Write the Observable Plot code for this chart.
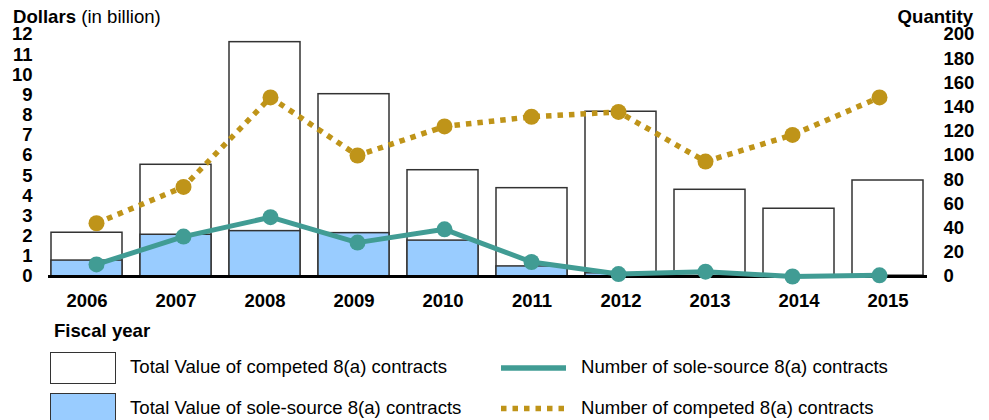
<!DOCTYPE html>
<html><head><meta charset="utf-8">
<script src="https://cdn.jsdelivr.net/npm/d3@7"></script>
<script src="https://cdn.jsdelivr.net/npm/@observablehq/plot@0.6"></script>
<style>
body{margin:0;background:#fff;font-family:"Liberation Sans",Arial,sans-serif;}
#wrap{position:relative;width:989px;height:420px;overflow:hidden;background:#fff;}
#wrap > svg{position:absolute;left:0;top:0;}
.lbl{position:absolute;font-size:18.6px;color:#000;white-space:nowrap;line-height:1;}
.box{position:absolute;box-sizing:border-box;border:1.5px solid #333;}
</style></head><body><div id="wrap"></div>
<script>
const years = ["2006","2007","2008","2009","2010","2011","2012","2013","2014","2015"];
const competedValue = [2.17,5.54,11.62,9.04,5.27,4.38,8.17,4.30,3.36,4.76];
const soleSourceValue = [0.79,2.07,2.25,2.15,1.78,0.50,0.16,0.03,0.02,0.04];
const soleSourceCount = [10,33,49,28,39,12,2,4,0,1];
const competedCount = [44,74,148,100,124,132,136,95,117,148];
const dollarTicks = d3.range(0,13,1);
const quantityTicks = d3.range(0,201,20);

const TEAL = "#419c94", GOLD = "#bf9419", BLUE = "#99ccff";
const data = years.map((y,i)=>({year:y, competed:competedValue[i], sole:soleSourceValue[i], soleN:soleSourceCount[i], compN:competedCount[i]}));

const common = {width:989,height:420,marginTop:34,marginBottom:144,marginLeft:48,marginRight:62,
  style:{fontFamily:"'Liberation Sans', Arial, sans-serif", background:"transparent", overflow:"visible", color:"#000"}};
const xOpt = {domain:years, paddingInner:0.2, paddingOuter:0};

const p1 = Plot.plot({...common,
  x:{...xOpt},
  y:{domain:[0,12]},
  marks:[
    Plot.barY(data,{x:"year",y:"competed",fill:"white",stroke:"#333",strokeWidth:1.5}),
    Plot.barY(data,{x:"year",y:"sole",fill:BLUE,stroke:"#333",strokeWidth:1.5}),
    Plot.ruleY([0],{stroke:"#000",strokeWidth:3}),
    Plot.axisY(dollarTicks,{tickSize:0,tickPadding:16,fontSize:18.5,fontWeight:"bold",label:null}),
    Plot.axisX({tickSize:0,tickPadding:17,fontSize:18.5,fontWeight:"bold",label:null})
  ]});

const p2 = Plot.plot({...common,
  x:{...xOpt, axis:null},
  y:{domain:[0,200]},
  marks:[
    Plot.line(data,{x:"year",y:"compN",stroke:GOLD,strokeWidth:5.5,strokeDasharray:"5.5,6",strokeLinecap:"butt"}),
    Plot.dot(data,{x:"year",y:"compN",r:8,fill:GOLD}),
    Plot.line(data,{x:"year",y:"soleN",stroke:TEAL,strokeWidth:5}),
    Plot.dot(data,{x:"year",y:"soleN",r:8,fill:TEAL}),
    Plot.axisY(quantityTicks,{anchor:"right",tickSize:0,tickPadding:16,fontSize:18.5,fontWeight:"bold",label:null})
  ]});

const wrap = document.getElementById("wrap");
wrap.appendChild(p1);
wrap.appendChild(p2);

function lbl(html,css){const d=document.createElement("div");d.className="lbl";d.innerHTML=html;Object.assign(d.style,css);wrap.appendChild(d);return d;}
lbl("<b>Dollars</b> (in billion)",{left:"13px",top:"7.5px"});
lbl("<b>Quantity</b>",{right:"16px",top:"7.5px"});
lbl("<b>Fiscal year</b>",{left:"54px",top:"322px"});
lbl("Total Value of competed 8(a) contracts",{left:"130px",top:"357.5px"});
lbl("Total Value of sole-source 8(a) contracts",{left:"130px",top:"399px"});
lbl("Number of sole-source 8(a) contracts",{left:"581px",top:"357.5px"});
lbl("Number of competed 8(a) contracts",{left:"581px",top:"399px"});

const b1=document.createElement("div");b1.className="box";Object.assign(b1.style,{left:"50px",top:"352px",width:"66px",height:"32px",background:"#fff"});wrap.appendChild(b1);
const b2=document.createElement("div");b2.className="box";Object.assign(b2.style,{left:"50px",top:"393px",width:"66px",height:"32px",background:BLUE});wrap.appendChild(b2);

const ns="http://www.w3.org/2000/svg";
const lg=document.createElementNS(ns,"svg");
lg.setAttribute("width","989");lg.setAttribute("height","420");
lg.style.position="absolute";lg.style.left="0";lg.style.top="0";lg.style.pointerEvents="none";
lg.innerHTML=`<line x1="501" x2="566" y1="368" y2="368" stroke="${TEAL}" stroke-width="5.5"/>
<line x1="501" x2="566" y1="408.5" y2="408.5" stroke="${GOLD}" stroke-width="5.5" stroke-dasharray="5.5,6"/>`;
wrap.appendChild(lg);
</script></body></html>
